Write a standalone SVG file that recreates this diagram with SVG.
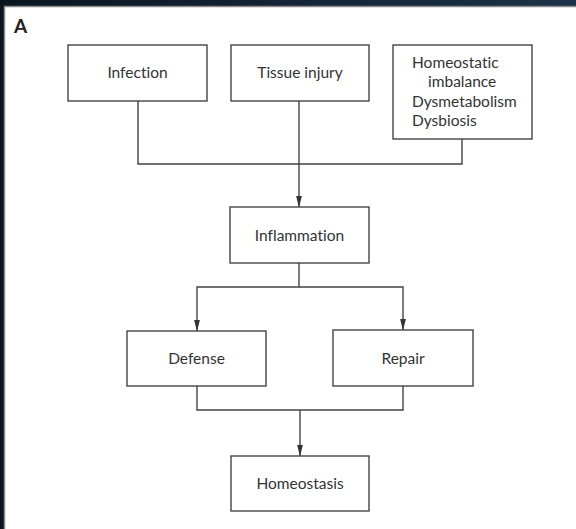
<svg xmlns="http://www.w3.org/2000/svg" width="576" height="529" viewBox="0 0 576 529">
  <defs>
    <style>
      .box { fill: #ffffff; stroke: #444444; stroke-width: 1.4; }
      .lbl { font-family: Lato, "Open Sans", sans-serif; font-size: 15.5px; fill: #333333; font-variant-ligatures: none; font-feature-settings: "liga" 0, "clig" 0; }
      .c { text-anchor: middle; }
      .conn { fill: none; stroke: #444444; stroke-width: 1.4; }
    </style>
    <marker id="arr" viewBox="0 0 12 6" refX="11.5" refY="3" markerWidth="12" markerHeight="6" markerUnits="userSpaceOnUse" orient="auto">
      <path d="M0,0 L12,3 L0,6 Z" fill="#333333"/>
    </marker>
    <linearGradient id="bg" x1="0" y1="0" x2="1" y2="0">
      <stop offset="0" stop-color="#0a1520"/>
      <stop offset="0.5" stop-color="#142436"/>
      <stop offset="1" stop-color="#1b3248"/>
    </linearGradient>
  </defs>
  <rect x="0" y="0" width="576" height="529" fill="url(#bg)"/>
  <rect x="4.5" y="6.5" width="580" height="530" fill="#ffffff" stroke="#8a8a8a" stroke-width="1.5"/>
  <text x="14" y="33" font-family="Lato, 'Open Sans', sans-serif" font-weight="bold" font-size="19" fill="#222222">A</text>

  <g id="connectors">
    <path class="conn" d="M138,101 V164 H462 V139"/>
    <path class="conn" d="M299,101 V207" marker-end="url(#arr)"/>
    <path class="conn" d="M299,263 V287 H197 V331" marker-end="url(#arr)"/>
    <path class="conn" d="M299,287 H403 V330" marker-end="url(#arr)"/>
    <path class="conn" d="M197,386 V410 H403 V386"/>
    <path class="conn" d="M300,410 V456" marker-end="url(#arr)"/>
  </g>

  <g id="infection">
    <rect class="box" x="68" y="45" width="139" height="56"/>
    <text class="lbl c" x="137.5" y="78">Infection</text>
  </g>
  <g id="tissue-injury">
    <rect class="box" x="231" y="45" width="138" height="56"/>
    <text class="lbl c" x="300" y="78">Tissue injury</text>
  </g>
  <g id="homeostatic">
    <rect class="box" x="393" y="45" width="139" height="94"/>
    <text class="lbl" x="412" y="68">Homeostatic</text>
    <text class="lbl" x="428" y="87">imbalance</text>
    <text class="lbl" x="412" y="107">Dysmetabolism</text>
    <text class="lbl" x="412" y="126">Dysbiosis</text>
  </g>
  <g id="inflammation">
    <rect class="box" x="230" y="207" width="139" height="56"/>
    <text class="lbl c" x="299.5" y="241">Inflammation</text>
  </g>
  <g id="defense">
    <rect class="box" x="127" y="331" width="139" height="55"/>
    <text class="lbl c" x="196.5" y="364">Defense</text>
  </g>
  <g id="repair">
    <rect class="box" x="333" y="330" width="140" height="56"/>
    <text class="lbl c" x="403" y="364">Repair</text>
  </g>
  <g id="homeostasis">
    <rect class="box" x="231" y="456" width="138" height="55"/>
    <text class="lbl c" x="300" y="489">Homeostasis</text>
  </g>
</svg>
